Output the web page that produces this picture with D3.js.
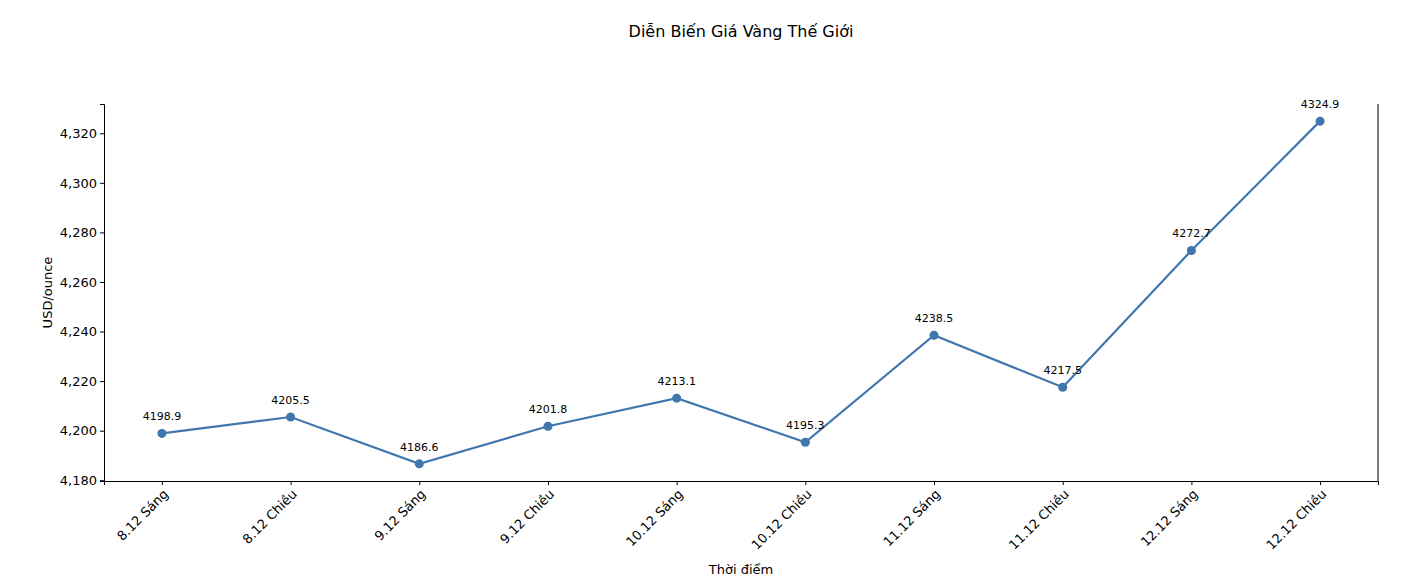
<!DOCTYPE html>
<html>
<head>
<meta charset="utf-8">
<script src="https://cdn.jsdelivr.net/npm/d3@7"></script>
<style>
  body { margin: 0; background: #fff; font-family: "DejaVu Sans", sans-serif; }
</style>
</head>
<body>
<div id="chart"></div>
<script>
// Data
const categories = ["8.12 Sáng", "8.12 Chiều", "9.12 Sáng", "9.12 Chiều", "10.12 Sáng",
  "10.12 Chiều", "11.12 Sáng", "11.12 Chiều", "12.12 Sáng", "12.12 Chiều"];
const prices = [4198.9, 4205.5, 4186.6, 4201.8, 4213.1, 4195.3, 4238.5, 4217.5, 4272.7, 4324.9];
const yTicks = [4180, 4200, 4220, 4240, 4260, 4280, 4300, 4320];

const width = 1418, height = 588;
const margin = { top: 104, right: 40, bottom: 107, left: 104 };
const color = "#3f76ad";

const svg = d3.select("#chart").append("svg")
  .attr("width", width).attr("height", height);

const xScale = d3.scaleLinear()
  .domain([-0.45, categories.length - 1 + 0.45])
  .range([margin.left, width - margin.right]);

const yMin = d3.min(prices), yMax = d3.max(prices), pad = (yMax - yMin) * 0.05;
const yScale = d3.scaleLinear()
  .domain([yMin - pad, yMax + pad])
  .range([height - margin.bottom, margin.top]);

// Axes
const xAxis = svg.append("g")
  .attr("transform", `translate(0, ${height - margin.bottom})`)
  .call(d3.axisBottom(xScale).tickValues(d3.range(categories.length))
    .tickFormat(i => categories[i]).tickSizeOuter(0).tickSize(4));
xAxis.selectAll("text")
  .attr("font-size", 13).attr("font-family", "DejaVu Sans").attr("fill", "#000")
  .attr("dy", "0.35em").attr("dx", "-0.4em").attr("y", 10)
  .attr("transform", "rotate(-45)")
  .style("text-anchor", "end");

const yAxis = svg.append("g")
  .attr("transform", `translate(${margin.left}, 0)`)
  .call(d3.axisLeft(yScale).tickValues(yTicks).tickSizeOuter(0).tickSize(4));
yAxis.selectAll("text").attr("font-size", 13).attr("font-family", "DejaVu Sans").attr("fill", "#000");

// Right spine
svg.append("line")
  .attr("x1", width - margin.right).attr("x2", width - margin.right)
  .attr("y1", margin.top).attr("y2", height - margin.bottom)
  .attr("stroke", "#000");

// Line and points
const line = d3.line().x((d, i) => xScale(i)).y(d => yScale(d));
svg.append("path").datum(prices)
  .attr("d", line).attr("fill", "none")
  .attr("stroke", color).attr("stroke-width", 2.2);

svg.selectAll("circle").data(prices).enter().append("circle")
  .attr("cx", (d, i) => xScale(i)).attr("cy", d => yScale(d))
  .attr("r", 4.5).attr("fill", color);

svg.selectAll(".vlabel").data(prices).enter().append("text")
  .attr("x", (d, i) => xScale(i)).attr("y", d => yScale(d) - 13)
  .attr("text-anchor", "middle").attr("font-size", 11)
  .text(d => d.toFixed(1));

// Labels
svg.append("text")
  .attr("x", (margin.left + width - margin.right) / 2).attr("y", 37)
  .attr("text-anchor", "middle").attr("font-size", 16)
  .text("Diễn Biến Giá Vàng Thế Giới");

svg.append("text")
  .attr("x", (margin.left + width - margin.right) / 2).attr("y", 574)
  .attr("text-anchor", "middle").attr("font-size", 13)
  .text("Thời điểm");

svg.append("text")
  .attr("transform", "rotate(-90)")
  .attr("x", -(margin.top + height - margin.bottom) / 2).attr("y", 52)
  .attr("text-anchor", "middle").attr("font-size", 13)
  .text("USD/ounce");
</script>
</body>
</html>
